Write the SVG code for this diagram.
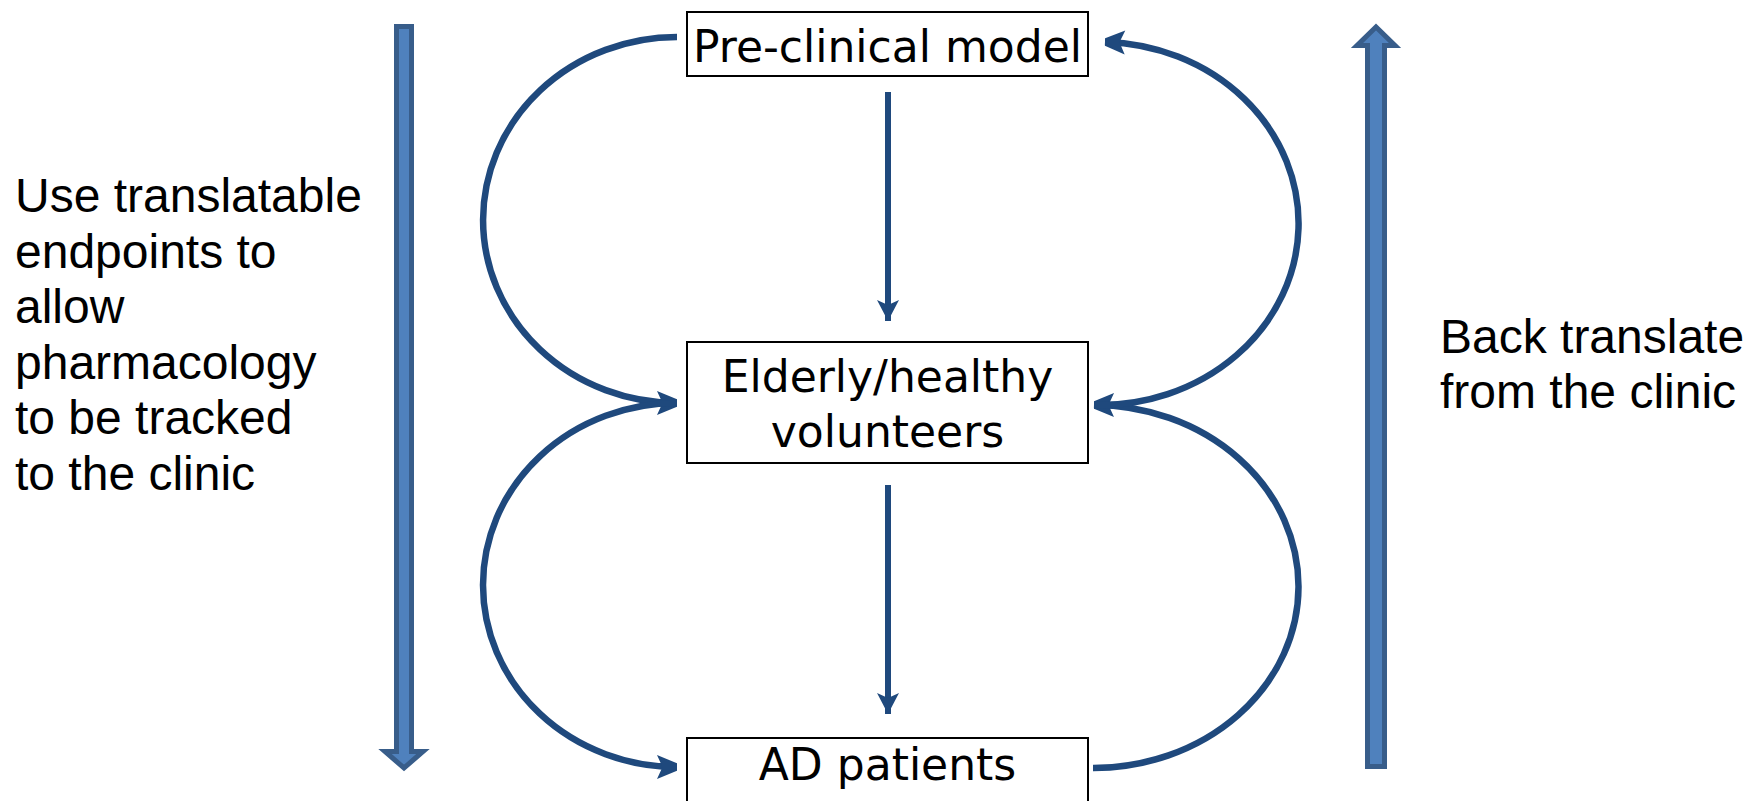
<svg xmlns="http://www.w3.org/2000/svg" width="1753" height="801" viewBox="0 0 1753 801">
  <style>
    .box { fill: #ffffff; stroke: #000000; stroke-width: 2; }
    .boxtext { font-family: "Comic Sans MS", "DejaVu Sans", sans-serif; font-size: 44px; fill: #000000; text-anchor: middle; }
    .note { font-family: "Liberation Sans", Arial, sans-serif; font-size: 48px; fill: #000000; }
    .arc { fill: none; stroke: #1f497d; stroke-width: 6.5; }
    .flow { fill: none; stroke: #1f497d; stroke-width: 6; }
    .block { fill: #4f81bd; stroke: #385d8a; stroke-width: 5; stroke-linejoin: miter; }
  </style>
  <defs>
    <marker id="stealth" markerUnits="userSpaceOnUse" viewBox="-22 -13 23 26" refX="0" refY="0" markerWidth="23" markerHeight="26" orient="auto">
      <path d="M0,-3.8 L0,3.8 L-20,12 L-14.5,0 L-20,-12 Z" fill="#1f497d"/>
    </marker>
    <marker id="tri" markerUnits="userSpaceOnUse" viewBox="-23 -12 24 24" refX="0" refY="0" markerWidth="24" markerHeight="24" orient="auto">
      <path d="M0,0 L-21,11 L-16,0 L-21,-11 Z" fill="#1f497d"/>
    </marker>
  </defs>

  <!-- broad direction arrows at the sides -->
  <g id="forward-arrow">
    <polygon class="block" points="396.5,26.5 411.5,26.5 411.5,751.5 423,751.5 404,768 385,751.5 396.5,751.5"/>
  </g>
  <g id="back-arrow">
    <polygon class="block" points="1367.5,766.5 1384.5,766.5 1384.5,45.5 1395,45.5 1376,27 1357,45.5 1367.5,45.5"/>
  </g>

  <!-- connectors -->
  <g id="connectors">
    <path class="arc" d="M677,37 A194,183 0 0 0 677,403" marker-end="url(#stealth)"/>
    <path class="arc" d="M677,403 A194,182 0 0 0 677,767" marker-end="url(#stealth)"/>
    <path class="arc" d="M1093,768 A205,181.5 0 0 0 1094,405" marker-end="url(#stealth)"/>
    <path class="arc" d="M1094,405 A199,181.5 0 0 0 1105,42" marker-end="url(#stealth)"/>
    <line class="flow" x1="888" y1="92" x2="888" y2="321" marker-end="url(#tri)"/>
    <line class="flow" x1="888" y1="485" x2="888" y2="714" marker-end="url(#tri)"/>
  </g>

  <g id="node-preclinical">
    <rect class="box" x="687" y="12" width="401" height="64"/>
    <text class="boxtext" x="887.5" y="62">Pre-clinical model</text>
  </g>
  <g id="node-volunteers">
    <rect class="box" x="687" y="342" width="401" height="121"/>
    <text class="boxtext" x="887.5" y="392">Elderly/healthy</text>
    <text class="boxtext" x="887.5" y="447">volunteers</text>
  </g>
  <g id="node-patients">
    <rect class="box" x="687" y="738" width="401" height="80"/>
    <text class="boxtext" x="887.5" y="780">AD patients</text>
  </g>

  <g id="label-forward">
    <text class="note" x="15" y="212">Use translatable</text>
    <text class="note" x="15" y="267.5">endpoints to</text>
    <text class="note" x="15" y="323">allow</text>
    <text class="note" x="15" y="378.5">pharmacology</text>
    <text class="note" x="15" y="434">to be tracked</text>
    <text class="note" x="15" y="489.5">to the clinic</text>
  </g>
  <g id="label-back">
    <text class="note" x="1440" y="353">Back translate</text>
    <text class="note" x="1440" y="408">from the clinic</text>
  </g>
</svg>
